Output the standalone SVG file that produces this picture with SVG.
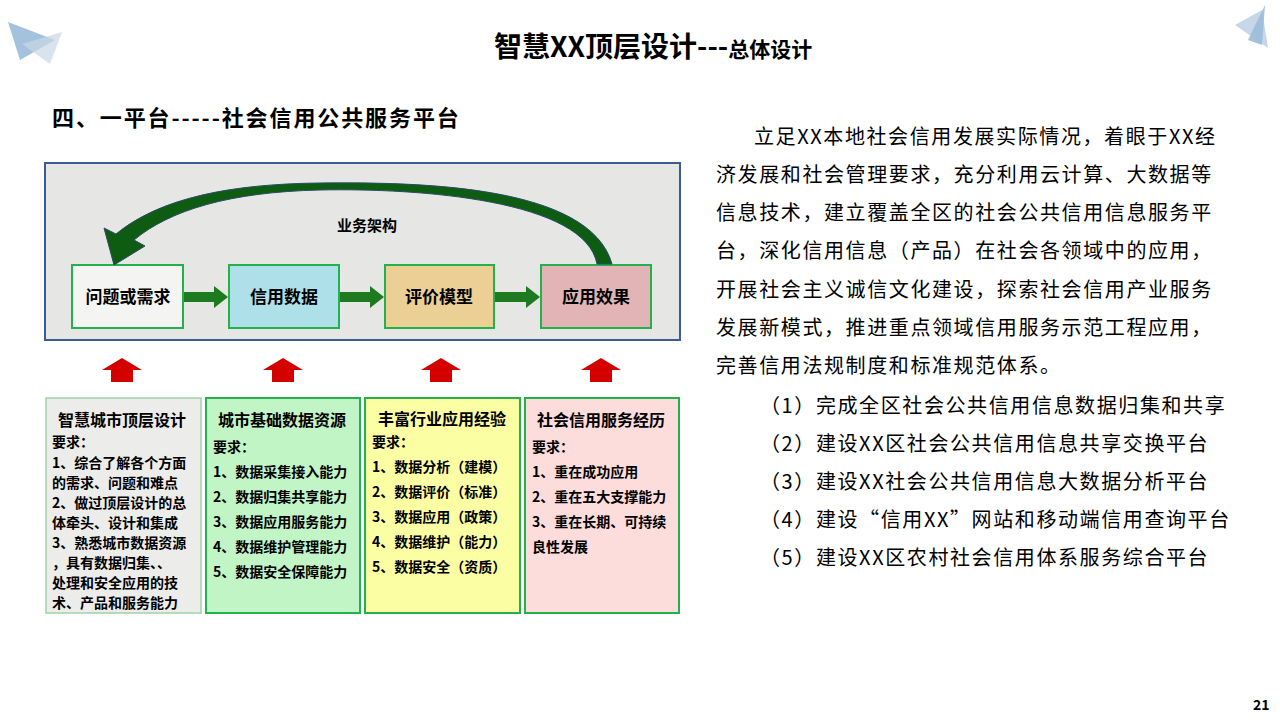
<svg xmlns="http://www.w3.org/2000/svg" width="1280" height="720" viewBox="0 0 1280 720">
<defs>
<style>
text{font-family:"Noto Sans CJK SC","Liberation Sans",sans-serif;fill:#000}
.b{font-weight:bold}
.box{stroke:#22b14c;stroke-width:2}
.bt{font-size:17px;font-weight:bold}
.st{font-size:16px;font-weight:bold}
.sm{font-size:14px;font-weight:bold}
.p{font-size:20px;letter-spacing:1.6px}
</style>
</defs>
<rect width="1280" height="720" fill="#fff"/>
<g id="deco">
<polygon points="8,22 55,40 20,60" fill="#7ea8cf" opacity="0.7"/>
<polygon points="22,44 62,32 50,64" fill="#c9d7e6" opacity="0.7"/>
<polygon points="1265,5 1248,40 1262,45" fill="#7ea8cf" opacity="0.7"/>
<polygon points="1235,25 1262,10 1268,48" fill="#9fbcd9" opacity="0.6"/>
</g>
<g id="title">
<text x="494" y="57" font-size="28" class="b">智慧XX顶层设计---<tspan font-size="21">总体设计</tspan></text>
<text x="52" y="126" font-size="22" class="b" letter-spacing="1.9">四、一平台-----社会信用公共服务平台</text>
</g>
<g id="panel">
<rect x="45" y="163" width="635" height="177" fill="#e6e6e4" stroke="#3b5c8f" stroke-width="2"/>
<text x="367" y="231" font-size="15" class="b" text-anchor="middle">业务架构</text>
</g>
<g id="n1"><rect class="box" x="72" y="265" width="111" height="63" fill="#f4f4f2"/><text x="128" y="303" class="bt" text-anchor="middle">问题或需求</text></g>
<g id="n2"><rect class="box" x="229" y="265" width="110" height="63" fill="#aee0ea"/><text x="284" y="303" class="bt" text-anchor="middle">信用数据</text></g>
<g id="n3"><rect class="box" x="385" y="265" width="109" height="63" fill="#ebcf95"/><text x="439" y="303" class="bt" text-anchor="middle">评价模型</text></g>
<g id="n4"><rect class="box" x="541" y="265" width="110" height="63" fill="#e3b4b6"/><text x="596" y="303" class="bt" text-anchor="middle">应用效果</text></g>
<g id="connectors">
<path d="M184,292 h30 v-6 l14,11 l-14,11 v-6 h-30z" fill="#1e7a1e"/>
<path d="M340,292 h30 v-6 l14,11 l-14,11 v-6 h-30z" fill="#1e7a1e"/>
<path d="M495,292 h31 v-6 l14,11 l-14,11 v-6 h-31z" fill="#1e7a1e"/>
<path d="M597,264 C585,200 420,188 320,190 C230,192 170,210 134,240 L145,246 L114,265 L104,228 L116,234 C160,198 230,184 320,183 C420,182 590,185 612,264 Z" fill="#0e5c12" stroke="#2a4a6a" stroke-width="1"/>
<g fill="#d40000">
<path d="M111,382 v-12 h-9 l20,-12 l20,12 h-9 v12z"/>
<path d="M272,382 v-12 h-9 l20,-12 l20,12 h-9 v12z"/>
<path d="M430,382 v-12 h-9 l20,-12 l20,12 h-9 v12z"/>
<path d="M590,382 v-12 h-9 l20,-12 l20,12 h-9 v12z"/>
</g>
</g>
<g id="c1"><rect x="46" y="398" width="155" height="215" fill="#ececea" stroke="#9fd4a8" stroke-width="1.5"/>
<text x="58" y="426" class="st">智慧城市顶层设计</text>
<g class="sm"><text x="52" y="447">要求：</text><text x="52" y="468">1、综合了解各个方面</text><text x="52" y="488">的需求、问题和难点</text><text x="52" y="508">2、做过顶层设计的总</text><text x="52" y="528">体牵头、设计和集成</text><text x="52" y="548">3、熟悉城市数据资源</text><text x="52" y="568">，具有数据归集、、</text><text x="52" y="588">处理和安全应用的技</text><text x="52" y="608">术、产品和服务能力</text></g></g>
<g id="c2"><rect class="box" x="206" y="398" width="154" height="215" fill="#c2f5c5"/>
<text x="218" y="426" class="st">城市基础数据资源</text>
<g class="sm"><text x="213" y="452">要求：</text><text x="213" y="477">1、数据采集接入能力</text><text x="213" y="502">2、数据归集共享能力</text><text x="213" y="527">3、数据应用服务能力</text><text x="213" y="552">4、数据维护管理能力</text><text x="213" y="577">5、数据安全保障能力</text></g></g>
<g id="c3"><rect class="box" x="365" y="398" width="155" height="215" fill="#fcfea3"/>
<text x="378" y="425" class="st">丰富行业应用经验</text>
<g class="sm"><text x="372" y="447">要求：</text><text x="372" y="472">1、数据分析（建模）</text><text x="372" y="497">2、数据评价（标准）</text><text x="372" y="522">3、数据应用（政策）</text><text x="372" y="547">4、数据维护（能力）</text><text x="372" y="572">5、数据安全（资质）</text></g></g>
<g id="c4"><rect class="box" x="525" y="398" width="154" height="215" fill="#fddcdc"/>
<text x="537" y="426" class="st">社会信用服务经历</text>
<g class="sm"><text x="532" y="452">要求：</text><text x="532" y="477">1、重在成功应用</text><text x="532" y="502">2、重在五大支撑能力</text><text x="532" y="527">3、重在长期、可持续</text><text x="532" y="552">良性发展</text></g></g>
<g id="body" class="p">
<text x="754" y="144">立足XX本地社会信用发展实际情况，着眼于XX经</text>
<text x="716" y="182">济发展和社会管理要求，充分利用云计算、大数据等</text>
<text x="716" y="220">信息技术，建立覆盖全区的社会公共信用信息服务平</text>
<text x="716" y="258">台，深化信用信息（产品）在社会各领域中的应用，</text>
<text x="716" y="297">开展社会主义诚信文化建设，探索社会信用产业服务</text>
<text x="716" y="335">发展新模式，推进重点领域信用服务示范工程应用，</text>
<text x="716" y="373">完善信用法规制度和标准规范体系。</text>
<text x="760" y="413">（1）完成全区社会公共信用信息数据归集和共享</text>
<text x="760" y="451">（2）建设XX区社会公共信用信息共享交换平台</text>
<text x="760" y="489">（3）建设XX社会公共信用信息大数据分析平台</text>
<text x="760" y="527">（4）建设“信用XX”网站和移动端信用查询平台</text>
<text x="760" y="565">（5）建设XX区农村社会信用体系服务综合平台</text>
</g>
<text x="1253" y="710" font-size="14" class="b">21</text>
</svg>
